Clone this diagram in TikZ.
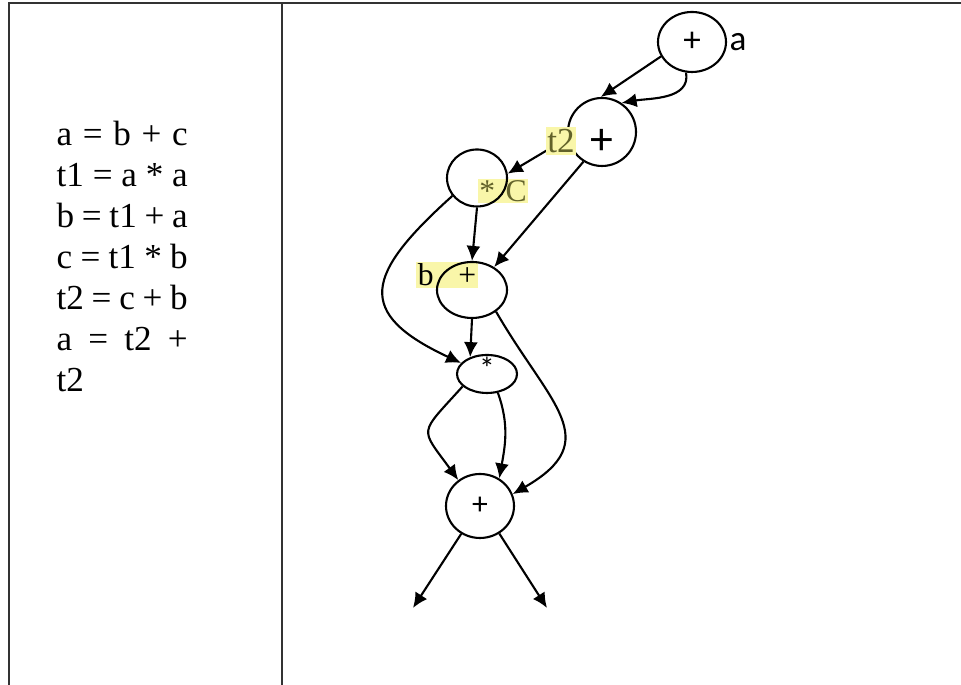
\documentclass[tikz,border=0pt]{standalone}
\usepackage{fontspec}
\setmainfont{Liberation Serif}
\newfontfamily\labelsans{Carlito}
\usetikzlibrary{positioning, arrows.meta, shapes.geometric}
\definecolor{rule}{HTML}{333333}
\definecolor{marker}{HTML}{F9F6A9}
\definecolor{moss}{HTML}{62622A}
\newcommand{\codeline}[1]{\makebox[1.31cm][s]{#1}}
\newcommand{\opfont}{\labelsans\fontsize{10}{12}\selectfont}

\begin{document}
\begin{tikzpicture}[
    op/.style={draw, ellipse, inner sep=0pt, line width=0.6pt},
    flow/.style={-{Latex[length=1.5mm,width=1.4mm]}, line width=0.6pt},
    hilite/.style={fill=marker, inner sep=0.5pt, font=\fontsize{9}{10}\selectfont},
    code/.style={anchor=base west, inner sep=0pt, font=\fontsize{10}{11.7}\selectfont}
  ]
  \useasboundingbox (0,0) rectangle (9.61,6.85);
  % Tabellenrahmen
  \draw[rule, line width=0.5pt] (0.09,0) -- (0.09,6.82) -- (9.61,6.82);
  \draw[rule, line width=0.5pt] (2.82,0) -- (2.82,6.82);
  % Drei-Adress-Code
  \foreach \txt [count=\i] in {a = b + c, t1 = a * a, b = t1 + a, c = t1 * b, t2 = c + b, a = t2 +}
    \node[code] (line\i) at (0.56,{5.39-(\i-1)*0.41}) {\codeline{\txt}};
  \node[code] (line7) at (0.56,2.93) {t2};
  % Markierte Namen (unter den Kanten der Knoten)
  \node[hilite, text=moss] (lblc) at (5.03,4.94) {*\hspace{3pt}C};
  \node[hilite] (lblb) at (4.47,4.10) {b\hspace{7pt}+};
  % DAG-Knoten
  \node[op, minimum width=0.68cm, minimum height=0.60cm, font=\opfont] (root) at (6.92,6.43) {+};
  \node[font=\opfont, inner sep=0.5pt, right=0pt of root] (lbla) {a};
  \node[op, minimum size=0.68cm,
    label={[font=\labelsans\fontsize{13}{14}\selectfont, yshift=-1mm]center:+}] (addt2) at (6.02,5.53) {};
  \node[op, minimum width=0.60cm, minimum height=0.57cm] (mulc) at (4.77,5.07) {};
  \node[op, minimum width=0.70cm, minimum height=0.56cm] (addb) at (4.72,3.95) {};
  \node[op, minimum width=0.60cm, minimum height=0.38cm,
    label={[font=\labelsans\fontsize{9}{10}\selectfont, yshift=0.6mm]center:*}] (mul2) at (4.87,3.11) {};
  \node[op, minimum width=0.68cm, minimum height=0.64cm,
    font=\labelsans\fontsize{9}{10}\selectfont] (addbot) at (4.80,1.79) {+};
  \coordinate (outl) at (4.13,0.77);
  \coordinate (outr) at (5.47,0.77);
  % Kanten
  \draw[flow] (root.205) -- (addt2.92);
  \draw[flow] (root.259) to[out=-80, in=10] (addt2.56);
  \draw[flow] (addt2.190) -- (mulc.8);
  \draw[flow] (addt2.238) -- (addb.46);
  \draw[flow] (mulc.south) -- (addb.north);
  \draw[flow] (mulc.216) to[out=222, in=155, looseness=1.8] (mul2.157);
  \draw[flow] (addb.south) -- (mul2.135);
  \draw[flow] (addb.318) to[out=-60, in=30, looseness=1.5] (addbot.20);
  \draw[flow] (mul2.207) to[out=228, in=126, looseness=1.8] (addbot.130);
  \draw[flow] (mul2.300) to[out=-70, in=80] (addbot.55);
  \draw[flow] (addbot.236) -- (outl);
  \draw[flow] (addbot.305) -- (outr);
  % t2 liegt ueber der Kante
  \node[hilite, text=moss, font=\fontsize{10}{11}\selectfont] (lblt2) at (5.61,5.44) {t2};
\end{tikzpicture}
\end{document}
